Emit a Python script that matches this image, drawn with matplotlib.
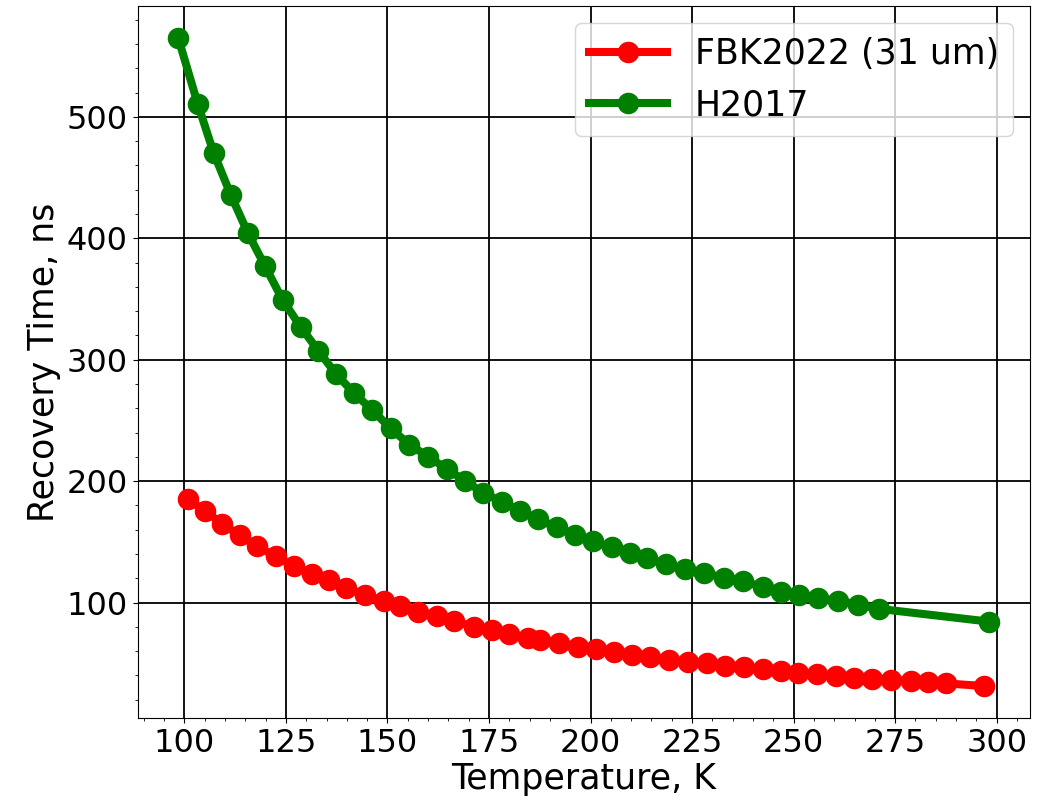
import matplotlib
matplotlib.use("Agg")
import matplotlib.pyplot as plt
from matplotlib.ticker import AutoMinorLocator

# FBK2022 (31 um) recovery time vs temperature
fbk_temp = [100.8, 105.1, 109.3, 113.6, 118.0, 122.5, 127.0, 131.5, 135.6, 139.9,
            144.4, 149.1, 153.1, 157.5, 162.2, 166.5, 171.3, 175.7, 179.9, 184.5,
            187.5, 192.3, 196.9, 201.4, 205.8, 210.1, 214.6, 219.3, 224.0, 228.7,
            233.1, 237.7, 242.4, 246.8, 251.1, 255.8, 260.5, 264.9, 269.4, 273.9,
            278.8, 283.1, 287.5, 296.9]
fbk_time = [185.5, 175.2, 165.0, 155.4, 146.3, 138.0, 130.1, 123.7, 118.2, 111.9,
            106.6, 101.4, 97.5, 92.6, 88.8, 85.0, 79.9, 77.2, 73.9, 71.1,
            68.9, 66.4, 63.4, 61.5, 59.0, 56.8, 54.9, 52.9, 51.2, 49.9,
            47.9, 46.6, 45.2, 43.8, 41.7, 40.8, 39.7, 38.3, 36.9, 36.1,
            35.5, 34.7, 33.4, 31.3]

# H2017 recovery time vs temperature
h_temp = [98.5, 103.3, 107.2, 111.5, 115.7, 119.9, 124.2, 128.7, 133.0, 137.3,
          141.8, 146.3, 150.8, 155.4, 160.0, 164.7, 169.1, 173.6, 178.2, 182.6,
          187.1, 191.7, 196.2, 200.6, 205.2, 209.6, 213.9, 218.6, 223.3, 228.0,
          232.8, 237.6, 242.4, 247.0, 251.3, 256.0, 261.0, 265.9, 271.1, 298.2]
h_time = [565.0, 510.7, 470.6, 435.3, 404.0, 376.9, 349.3, 326.8, 307.4, 288.4,
          272.5, 258.4, 243.5, 230.1, 220.2, 209.9, 200.1, 190.4, 183.0, 175.8,
          168.6, 162.0, 156.0, 150.4, 145.5, 141.0, 136.4, 131.4, 127.6, 124.5,
          120.4, 117.7, 112.7, 109.1, 106.6, 103.9, 101.2, 98.3, 94.8, 84.3]

plt.rcParams["font.size"] = 25
plt.rcParams["xtick.labelsize"] = 23
plt.rcParams["ytick.labelsize"] = 23

fig, ax = plt.subplots(figsize=(10.51, 8), dpi=100)
ax.plot(fbk_temp, fbk_time, "-o", color="red", lw=5.8, ms=14.5, label="FBK2022 (31 um)")
ax.plot(h_temp, h_time, "-o", color="green", lw=5.8, ms=14.5, label="H2017")

ax.set_xlabel("Temperature, K", labelpad=2)
ax.set_ylabel("Recovery Time, ns")
ax.xaxis.set_minor_locator(AutoMinorLocator(5))
ax.yaxis.set_minor_locator(AutoMinorLocator(5))
ax.grid(True, which="major", color="black", lw=1.3)
ax.legend(loc="upper right", handlelength=2.25)

fig.subplots_adjust(left=0.131, right=0.98, top=0.993, bottom=0.102)
fig.savefig("out.png", dpi=100)
